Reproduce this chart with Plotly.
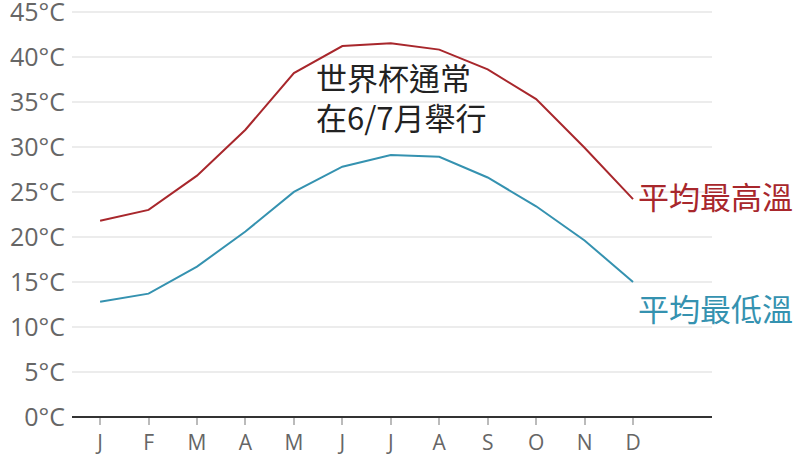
import plotly.graph_objects as go

months = ["J", "F", "M", "A", "M", "J", "J", "A", "S", "O", "N", "D"]
avg_high = [21.8, 23.0, 26.8, 31.9, 38.2, 41.2, 41.5, 40.8, 38.6, 35.3, 29.9, 24.2]
avg_low = [12.8, 13.7, 16.7, 20.6, 25.0, 27.8, 29.1, 28.9, 26.6, 23.4, 19.6, 15.0]
y_ticks = [0, 5, 10, 15, 20, 25, 30, 35, 40, 45]
y_labels = [f"{v}°C" for v in y_ticks]

RED = "#a8272c"
BLUE = "#3592b0"
idx = list(range(len(months)))

fig = go.Figure()
fig.add_trace(go.Scatter(x=idx, y=avg_high, mode="lines", line=dict(color=RED, width=2),
                         name="平均最高溫", hoverinfo="skip"))
fig.add_trace(go.Scatter(x=idx, y=avg_low, mode="lines", line=dict(color=BLUE, width=2),
                         name="平均最低溫", hoverinfo="skip"))

cjk = "Noto Sans CJK TC, Noto Sans, sans-serif"
fig.add_annotation(x=idx[-1], y=avg_high[-1], text="平均最高溫", showarrow=False,
                   xanchor="left", yanchor="middle", xshift=3, yshift=4,
                   font=dict(family=cjk, size=31, color=RED))
fig.add_annotation(x=idx[-1], y=avg_low[-1], text="平均最低溫", showarrow=False,
                   xanchor="left", yanchor="middle", xshift=3, yshift=-26,
                   font=dict(family=cjk, size=31, color=BLUE))
fig.add_annotation(x=4.42, y=35.6, text="世界杯通常<br>在6/7月舉行", showarrow=False,
                   xanchor="left", yanchor="middle", align="left",
                   font=dict(family=cjk, size=31, color="#222222"))

fig.update_layout(
    width=810, height=456,
    margin=dict(l=72, r=98, t=10, b=39, autoexpand=False),
    paper_bgcolor="white", plot_bgcolor="white",
    showlegend=False,
    font=dict(family="Open Sans, sans-serif", color="#666666"),
)
fig.update_xaxes(
    range=[-0.58, 12.63], tickmode="array", tickvals=idx, ticktext=months,
    showgrid=False, zeroline=False, showline=False, automargin=False,
    ticks="outside", ticklen=7, tickwidth=2, tickcolor="#bbbbbb",
    tickfont=dict(size=21, color="#666666"),
)
fig.update_yaxes(
    range=[0, 45.2], tickmode="array", tickvals=y_ticks, ticktext=y_labels,
    showgrid=True, gridcolor="#ececec", gridwidth=1.5, automargin=False,
    zeroline=True, zerolinecolor="#333333", zerolinewidth=2,
    showline=False, ticks="", ticklabelstandoff=6, ticklabeloverflow="allow",
    tickfont=dict(size=25, color="#666666"),
)

fig.write_html("out.html", config={"displayModeBar": False},
               post_script="document.body.style.margin='0';")
